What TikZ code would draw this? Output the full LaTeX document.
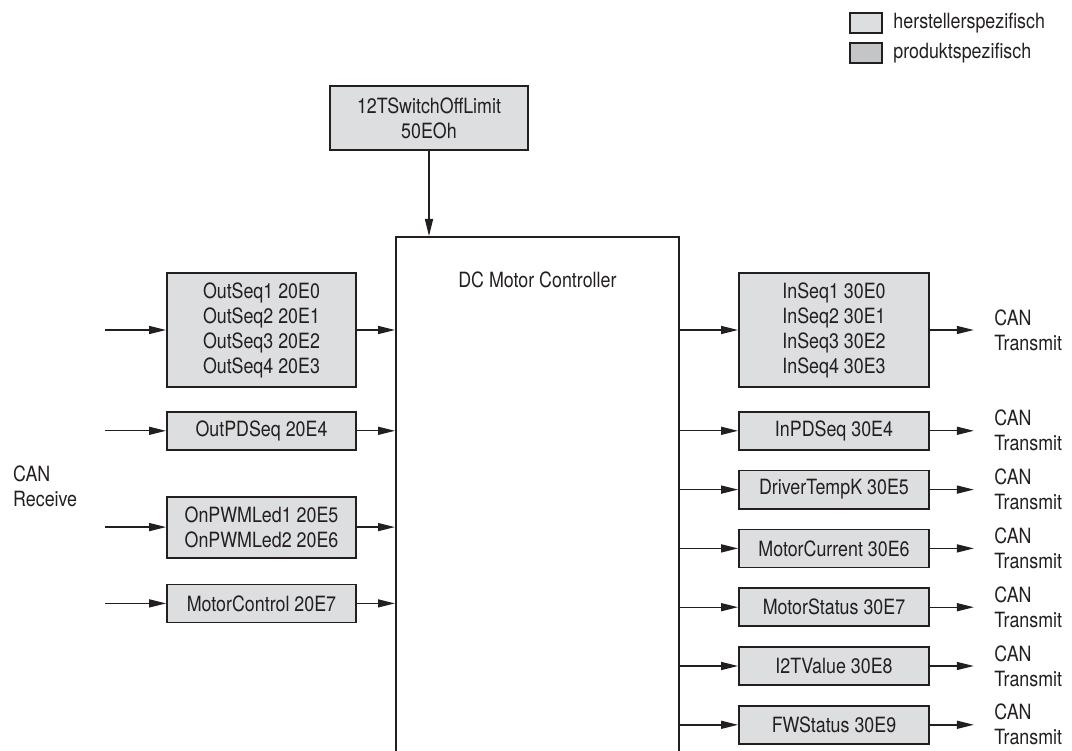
\documentclass[tikz,border=0pt]{standalone}
\usepackage{fontspec}
\setmainfont{TeX Gyre Heros}[FakeStretch=0.85]
\usepackage{tikz}
\usetikzlibrary{arrows.meta, positioning}

\definecolor{boxgray}{RGB}{221,222,223}
\definecolor{prodgray}{RGB}{196,197,198}
\definecolor{inkgray}{RGB}{35,31,32}

\begin{document}
\begin{tikzpicture}[
        x=1pt, y=-1pt,
        every node/.style={font=\fontsize{21}{25}\selectfont, text=inkgray},
        box/.style={rectangle, draw=inkgray, fill=boxgray, line width=1.8pt, align=center, minimum width=189pt, minimum height=38pt, inner sep=0pt},
        ctrlbox/.style={rectangle, draw=inkgray, line width=1.8pt, minimum width=283pt, minimum height=540pt, inner sep=0pt},
        legbox/.style={rectangle, draw=inkgray, line width=1.8pt, minimum width=32pt, minimum height=20pt, inner sep=0pt},
        canlabel/.style={align=left, inner sep=3.3pt},
        arrow/.style={draw=inkgray, line width=1.4pt, -{Triangle[length=17pt,width=8pt]}}
    ]

    \useasboundingbox (0,0) rectangle (1072,751);

    % Legend
    \node [legbox, fill=boxgray] (legmaker) at (866,23) {};
    \node [right=7pt of legmaker] (legmakertxt) {herstellerspezifisch};
    \node [legbox, fill=prodgray] (legprod) at (866,53) {};
    \node [right=7pt of legprod] (legprodtxt) {produktspezifisch};

    % Controller
    \node [ctrlbox, anchor=north west] (ctrl) at (395,236) {};
    \node [below=32pt of ctrl.north] (ctrltitle) {DC Motor Controller};

    % Limit object
    \node [box, minimum width=198pt, minimum height=64pt] (limit) at (429,118) {12TSwitchOffLimit\\ 50EOh};

    % Receive objects
    \node [box, minimum height=114pt] (outseq) at (261.5,330) {OutSeq1 20E0\\ OutSeq2 20E1\\ OutSeq3 20E2\\ OutSeq4 20E3};
    \node [box, below=23pt of outseq] (outpdseq) {OutPDSeq 20E4};
    \node [box, minimum height=61pt, below=45pt of outpdseq] (onpwm) {OnPWMLed1 20E5\\ OnPWMLed2 20E6};
    \node [box, below=25pt of onpwm] (motorctrl) {MotorControl 20E7};

    \node [canlabel, anchor=west] (rx) at (9.7,486) {CAN\\ Receive};

    % Transmit objects
    \node [box, minimum width=190pt, minimum height=114pt] (inseq) at (834,330) {InSeq1 30E0\\ InSeq2 30E1\\ InSeq3 30E2\\ InSeq4 30E3};
    \node [box, minimum width=190pt, below=23pt of inseq] (inpdseq) {InPDSeq 30E4};
    \node [box, minimum width=190pt, below=19pt of inpdseq] (drvtemp) {DriverTempK 30E5};
    \node [box, minimum width=190pt, below=19pt of drvtemp] (mcurrent) {MotorCurrent 30E6};
    \node [box, minimum width=190pt, below=19pt of mcurrent] (mstatus) {MotorStatus 30E7};
    \node [box, minimum width=190pt, below=19pt of mstatus] (i2tval) {I2TValue 30E8};
    \node [box, minimum width=190pt, below=19pt of i2tval] (fwstatus) {FWStatus 30E9};

    \node [canlabel, right=61pt of inseq] (tx1) {CAN\\ Transmit};
    \node [canlabel, right=61pt of inpdseq] (tx2) {CAN\\ Transmit};
    \node [canlabel, right=61pt of drvtemp] (tx3) {CAN\\ Transmit};
    \node [canlabel, right=61pt of mcurrent] (tx4) {CAN\\ Transmit};
    \node [canlabel, right=61pt of mstatus] (tx5) {CAN\\ Transmit};
    \node [canlabel, right=61pt of i2tval] (tx6) {CAN\\ Transmit};
    \node [canlabel, right=61pt of fwstatus] (tx7) {CAN\\ Transmit};

    % Free ends of the receive arrows
    \coordinate (outseqin) at ([xshift=-61pt]outseq.west);
    \coordinate (outpdseqin) at ([xshift=-61pt]outpdseq.west);
    \coordinate (onpwmin) at ([xshift=-61pt]onpwm.west);
    \coordinate (motorctrlin) at ([xshift=-61pt]motorctrl.west);

    % Connecting Lines
    \draw [arrow] (limit.south) -- (limit.south |- ctrl.north);

    \draw [arrow] (outseqin) -- (outseq);
    \draw [arrow] (outpdseqin) -- (outpdseq);
    \draw [arrow] (onpwmin) -- (onpwm);
    \draw [arrow] (motorctrlin) -- (motorctrl);

    \draw [arrow] (outseq.east) -- (outseq.east -| ctrl.west);
    \draw [arrow] (outpdseq.east) -- (outpdseq.east -| ctrl.west);
    \draw [arrow] (onpwm.east) -- (onpwm.east -| ctrl.west);
    \draw [arrow] (motorctrl.east) -- (motorctrl.east -| ctrl.west);

    \draw [arrow] (inseq.west -| ctrl.east) -- (inseq.west);
    \draw [arrow] (inpdseq.west -| ctrl.east) -- (inpdseq.west);
    \draw [arrow] (drvtemp.west -| ctrl.east) -- (drvtemp.west);
    \draw [arrow] (mcurrent.west -| ctrl.east) -- (mcurrent.west);
    \draw [arrow] (mstatus.west -| ctrl.east) -- (mstatus.west);
    \draw [arrow] (i2tval.west -| ctrl.east) -- (i2tval.west);
    \draw [arrow] (fwstatus.west -| ctrl.east) -- (fwstatus.west);

    \draw [arrow, shorten >=17pt] (inseq) -- (tx1);
    \draw [arrow, shorten >=17pt] (inpdseq) -- (tx2);
    \draw [arrow, shorten >=17pt] (drvtemp) -- (tx3);
    \draw [arrow, shorten >=17pt] (mcurrent) -- (tx4);
    \draw [arrow, shorten >=17pt] (mstatus) -- (tx5);
    \draw [arrow, shorten >=17pt] (i2tval) -- (tx6);
    \draw [arrow, shorten >=17pt] (fwstatus) -- (tx7);

\end{tikzpicture}
\end{document}
